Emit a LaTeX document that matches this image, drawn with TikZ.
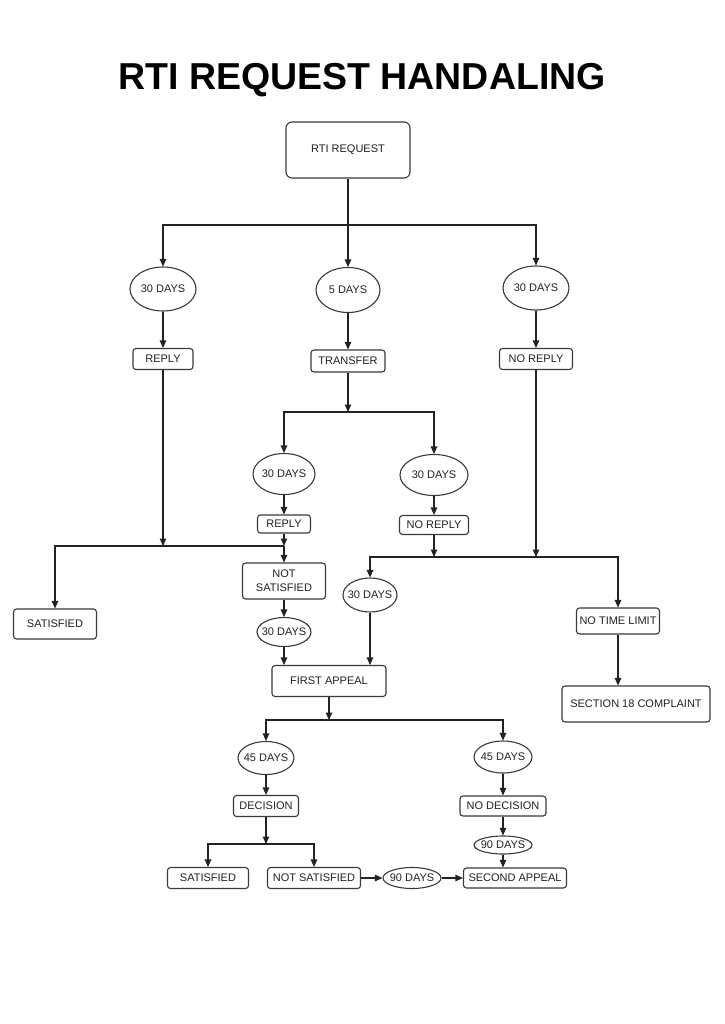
\documentclass[tikz,border=0pt]{standalone}
\usepackage{fontspec}
\setmainfont{Liberation Sans}
\usepackage{tikz}
\usetikzlibrary{calc}
\usetikzlibrary{arrows.meta}
\usetikzlibrary{shapes.geometric}
\definecolor{ink}{HTML}{222222}
\definecolor{rim}{HTML}{3A3A3A}

\begin{document}
\begin{tikzpicture}[x=1pt,y=-1pt]
\tikzstyle{box} = [draw=rim, line width=1.1pt, rounded corners=3pt, inner sep=0pt, text=ink, align=center, font=\fontsize{11}{14}\selectfont]
\tikzstyle{days} = [draw=rim, line width=1.1pt, ellipse, inner sep=0pt, text=ink, font=\fontsize{11}{14}\selectfont]
\tikzstyle{myedgestyle} = [-{Triangle[length=7.5pt,width=6.5pt]}, line width=1.1pt, draw=ink]
\fill[white] (0,0) rectangle (724,1024);
\useasboundingbox (0,0) rectangle (724,1024);
\node[anchor=base, font=\bfseries\fontsize{37.5}{40}\selectfont] (title) at (362,90) {RTI REQUEST HANDALING};
% top
\node[box, rounded corners=6pt, minimum width=124pt, minimum height=56pt] (req) at (348,150) {RTI REQUEST};
\node[days, minimum width=66pt, minimum height=44pt] (d30a) at (163,289) {\makebox[0pt]{30 DAYS}};
\node[days, minimum width=64pt, minimum height=45pt] (d5) at (348,290) {\makebox[0pt]{5 DAYS}};
\node[days, minimum width=66pt, minimum height=44pt] (d30b) at (536,288) {\makebox[0pt]{30 DAYS}};
\node[box, minimum width=60pt, minimum height=21pt] (replyA) at (163,359) {REPLY};
\node[box, minimum width=74pt, minimum height=22pt] (transfer) at (348,361) {TRANSFER};
\node[box, minimum width=73pt, minimum height=21pt] (noreplyA) at (536,359) {NO REPLY};
% middle
\node[days, minimum width=62pt, minimum height=41pt] (d30c) at (284,474) {\makebox[0pt]{30 DAYS}};
\node[days, minimum width=68pt, minimum height=41pt] (d30d) at (434,475) {\makebox[0pt]{30 DAYS}};
\node[box, minimum width=53pt, minimum height=18pt] (replyB) at (284,524) {REPLY};
\node[box, minimum width=69pt, minimum height=19pt] (noreplyB) at (434,525) {NO REPLY};
\node[box, minimum width=83pt, minimum height=30pt] (sat1) at (55,624) {SATISFIED};
\node[box, minimum width=83pt, minimum height=36pt] (notsat) at (284,581) {NOT\\SATISFIED};
\node[days, minimum width=54pt, minimum height=29pt] (d30e) at (284,632) {\makebox[0pt]{30 DAYS}};
\node[days, minimum width=54pt, minimum height=34pt] (d30f) at (370,595) {\makebox[0pt]{30 DAYS}};
\node[box, minimum width=114pt, minimum height=31pt] (first) at (329,681) {FIRST APPEAL};
\node[box, minimum width=83pt, minimum height=26pt] (notime) at (618,621) {NO TIME LIMIT};
\node[box, minimum width=148pt, minimum height=36pt] (sec18) at (636,704) {SECTION 18 COMPLAINT};
% bottom
\node[days, minimum width=56pt, minimum height=33pt] (d45a) at (266,758) {\makebox[0pt]{45 DAYS}};
\node[days, minimum width=58pt, minimum height=32pt] (d45b) at (503,757) {\makebox[0pt]{45 DAYS}};
\node[box, minimum width=65pt, minimum height=21pt] (decision) at (266,806) {DECISION};
\node[box, minimum width=86pt, minimum height=20pt] (nodecision) at (503,806) {NO DECISION};
\node[days, minimum width=58pt, minimum height=18pt] (d90b) at (503,845) {\makebox[0pt]{90 DAYS}};
\node[box, minimum width=81pt, minimum height=21pt] (sat2) at (208,878) {SATISFIED};
\node[box, minimum width=93pt, minimum height=21pt] (notsat2) at (314,878) {NOT SATISFIED};
\node[days, minimum width=58pt, minimum height=21pt] (d90a) at (412,878) {\makebox[0pt]{90 DAYS}};
\node[box, minimum width=103pt, minimum height=20pt] (second) at (515,878) {SECOND APPEAL};
% split points
\coordinate (s1) at (348,225);
\coordinate (s2) at (348,412);
\coordinate (j1) at (163,546);
\coordinate (j2) at (284,546);
\coordinate (j3) at (434,557);
\coordinate (j4) at (536,557);
\coordinate (s3) at (329,720);
\coordinate (s4) at (266,844);
% edges
\draw[myedgestyle] (req) -- (d5);
\draw[myedgestyle] (s1) -| (d30a);
\draw[myedgestyle] (s1) -| (d30b);
\draw[myedgestyle] (d30a) -- (replyA);
\draw[myedgestyle] (d5) -- (transfer);
\draw[myedgestyle] (d30b) -- (noreplyA);
\draw[myedgestyle] (transfer) -- (s2);
\draw[myedgestyle] (s2) -| (d30c);
\draw[myedgestyle] (s2) -| (d30d);
\draw[myedgestyle] (d30c) -- (replyB);
\draw[myedgestyle] (d30d) -- (noreplyB);
\draw[myedgestyle] (replyA) -- (j1);
\draw[myedgestyle] (replyB) -- (j2);
\draw[myedgestyle] (j2) -| (sat1);
\draw[myedgestyle] (j2) -- (notsat);
\draw[myedgestyle] (notsat) -- (d30e);
\draw[myedgestyle] (d30e) -- (d30e |- first.north);
\draw[myedgestyle] (noreplyB) -- (j3);
\draw[myedgestyle] (noreplyA) -- (j4);
\draw[myedgestyle] (j3) -| (d30f);
\draw[myedgestyle] (j3) -| (notime);
\draw[myedgestyle] (d30f) -- (d30f |- first.north);
\draw[myedgestyle] (notime) -- (notime |- sec18.north);
\draw[myedgestyle] (first) -- (s3);
\draw[myedgestyle] (s3) -| (d45a);
\draw[myedgestyle] (s3) -| (d45b);
\draw[myedgestyle] (d45a) -- (decision);
\draw[myedgestyle] (d45b) -- (nodecision);
\draw[myedgestyle] (nodecision) -- (d90b);
\draw[myedgestyle] (d90b) -- (d90b |- second.north);
\draw[myedgestyle] (decision) -- (s4);
\draw[myedgestyle] (s4) -| (sat2);
\draw[myedgestyle] (s4) -| (notsat2);
\draw[myedgestyle] (notsat2) -- (d90a);
\draw[myedgestyle] (d90a) -- (second);
\end{tikzpicture}
\end{document}
